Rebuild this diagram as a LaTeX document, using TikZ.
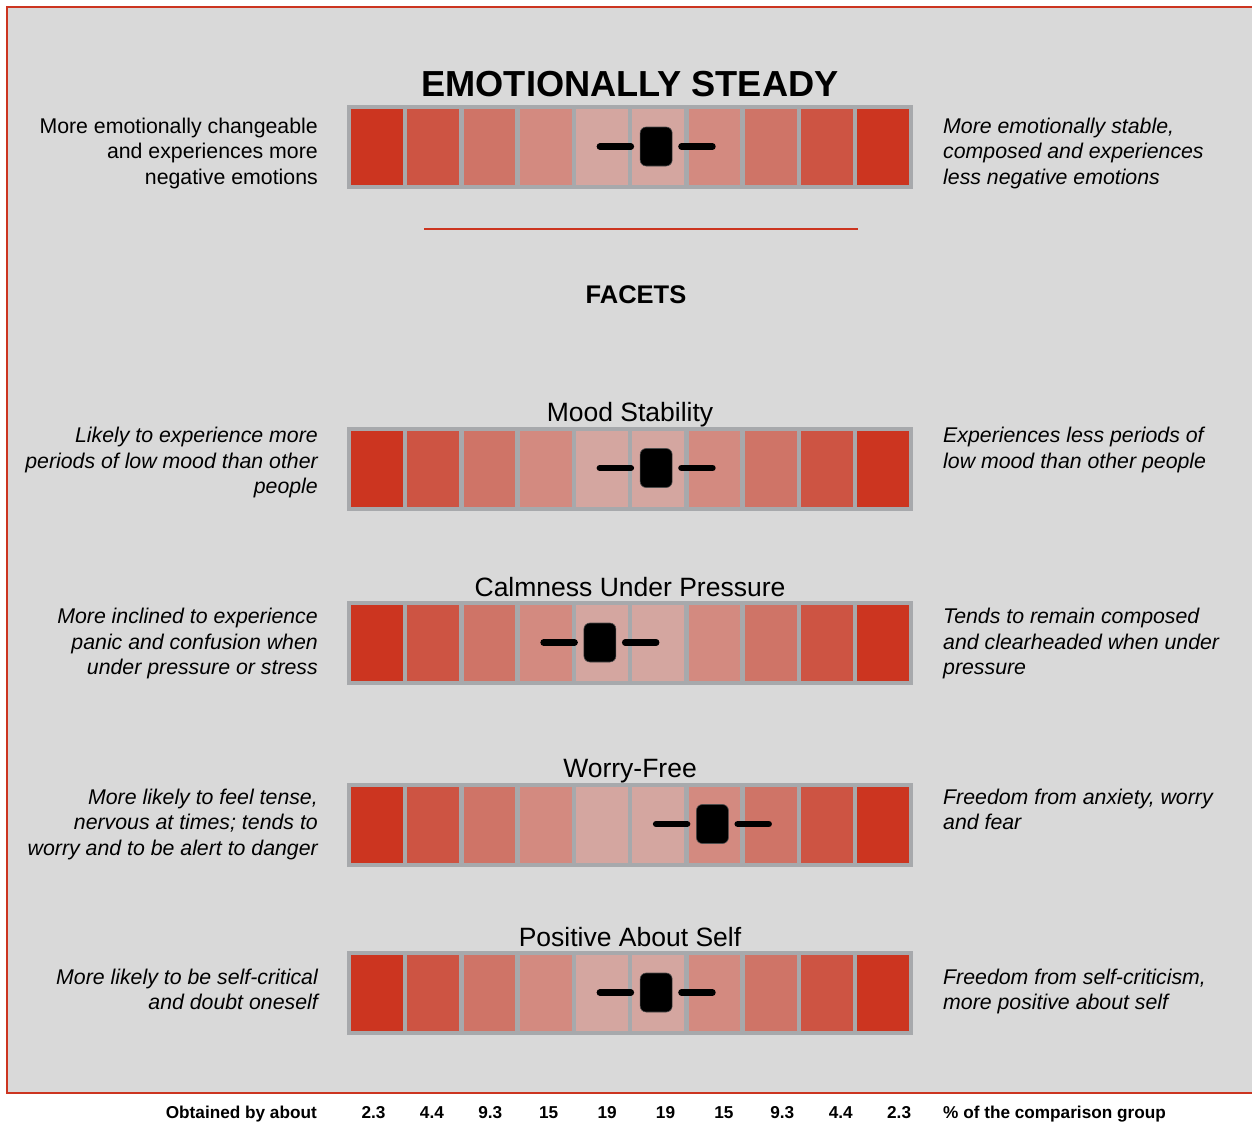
\documentclass[tikz,border=0pt]{standalone}
\usepackage{fontspec}
\setmainfont{Liberation Sans}
\definecolor{pagegray}{RGB}{217,217,217}
\definecolor{framered}{RGB}{204,53,32}
\definecolor{bargray}{RGB}{167,169,172}
\definecolor{r1}{RGB}{204,53,32}
\definecolor{r2}{RGB}{205,84,67}
\definecolor{r3}{RGB}{207,116,103}
\definecolor{r4}{RGB}{211,138,128}
\definecolor{r5}{RGB}{212,166,160}
\newcommand{\fsz}[2]{\fontsize{#1pt}{#2pt}\selectfont}
\tikzset{
  barframe/.style={fill=bargray, draw=none, inner sep=0pt, minimum width=566pt, minimum height=84pt, anchor=north west},
  slider/.style={fill=black, draw=black!70, line width=0.6pt, rounded corners=6pt, inner sep=0pt, minimum width=32pt, minimum height=39pt},
  sliderline/.style={line width=6.5pt, line cap=round, black},
  lefttxt/.style={anchor=base east, align=right, inner sep=0pt, font=\fsz{21.3}{25.6}},
  righttxt/.style={anchor=base west, align=left, inner sep=0pt, font=\fsz{21.3}{25.6}\itshape},
  facettitle/.style={anchor=base, inner sep=0pt, font=\fsz{26.5}{30}},
  pct/.style={anchor=base, inner sep=0pt, font=\fsz{17.2}{20}\bfseries},
}
% one ten-cell rating bar: #1 name, #2 top edge, #3 index of the marked cell
\newcommand{\ratingbar}[3]{%
  \node[barframe] (#1) at (347,#2) {};
  \foreach \i/\col in {0/r1,1/r2,2/r3,3/r4,4/r5,5/r5,6/r4,7/r3,8/r2,9/r1} {
    \fill[\col] ({351+56.25*\i},{#2+4}) rectangle ++(51.75,76);
  }
  \node[slider] (#1-mark) at ({374.9+56.25*#3},{#2+41.5}) {};
  \draw[sliderline] ([xshift=-9pt]#1-mark.west) -- ([xshift=-40pt]#1-mark.west);
  \draw[sliderline] ([xshift=9pt]#1-mark.east) -- ([xshift=40pt]#1-mark.east);
}
\begin{document}
\begin{tikzpicture}[x=1pt,y=-1pt]
\useasboundingbox (0,0) rectangle (1252,1122);
\fill[white] (0,0) rectangle (1252,1122);
% framed grey panel, open on the right
\fill[pagegray] (7,7) rectangle (1252,1093);
\draw[framered, line width=2pt] (1252,7) -- (7,7) -- (7,1093) -- (1252,1093);

% overall scale (multi-line texts are placed by the baseline of their last line)
\node[anchor=base, inner sep=0pt, font=\fsz{36.2}{40}\bfseries] (maintitle) at (630,96) {EMOTIONALLY STEADY};
\ratingbar{steady}{105}{5}
\node[lefttxt] (steady-l) at (318,184.2) {More emotionally changeable\\and experiences more\\negative emotions};
\node[righttxt] (steady-r) at (943,184.2) {More emotionally stable,\\composed and experiences\\less negative emotions};

\coordinate (rule-a) at (424,229);
\coordinate (rule-b) at (858,229);
\draw[framered, line width=1.8pt] (rule-a) -- (rule-b);
\node[anchor=base, inner sep=0pt, font=\fsz{25.5}{28}\bfseries] (facets) at (636,303) {FACETS};

% facets
\node[facettitle] (mood-t) at (630,421) {Mood Stability};
\ratingbar{mood}{426.5}{5}
\node[lefttxt, font=\fsz{21.3}{25.6}\itshape] (mood-l) at (318,493.7) {Likely to experience more\\periods of low mood than other\\people};
\node[righttxt] (mood-r) at (943,468.1) {Experiences less periods of\\low mood than other people};

\node[facettitle] (calm-t) at (630,596) {Calmness Under Pressure};
\ratingbar{calm}{601}{4}
\node[lefttxt, font=\fsz{21.3}{25.6}\itshape] (calm-l) at (318,674.7) {More inclined to experience\\panic and confusion when\\under pressure or stress};
\node[righttxt] (calm-r) at (943,674.7) {Tends to remain composed\\and clearheaded when under\\pressure};

\node[facettitle] (worry-t) at (630,777) {Worry-Free};
\ratingbar{worry}{782.5}{6}
\node[lefttxt, font=\fsz{21.3}{25.6}\itshape] (worry-l) at (318,855.2) {More likely to feel tense,\\nervous at times; tends to\\worry and to be alert to danger};
\node[righttxt] (worry-r) at (943,829.6) {Freedom from anxiety, worry\\and fear};

\node[facettitle] (self-t) at (630,946) {Positive About Self};
\ratingbar{self}{951}{5}
\node[lefttxt, font=\fsz{21.3}{25.6}\itshape] (self-l) at (318,1009.6) {More likely to be self-critical\\and doubt oneself};
\node[righttxt] (self-r) at (943,1009.6) {Freedom from self-criticism,\\more positive about self};

% percentages under the panel
\node[pct, anchor=base east] (pct-l) at (317,1118.5) {Obtained by about};
\foreach \v [count=\k from 0] in {2.3,4.4,9.3,15,19,19,15,9.3,4.4,2.3} {
  \node[pct] (pct-\k) at ({373.5+58.4*\k},1118.5) {\v};
}
\node[pct, anchor=base west] (pct-r) at (943,1118.5) {\% of the comparison group};
\end{tikzpicture}
\end{document}
